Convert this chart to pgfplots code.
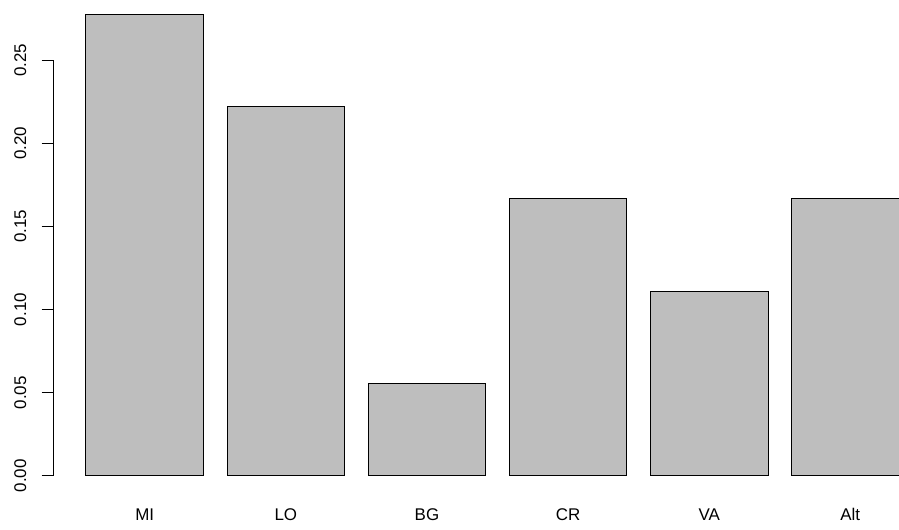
\documentclass[border=0pt]{standalone}
\usepackage{fontspec}
\setmainfont{Liberation Sans}
\usepackage{pgfplots}
\pgfplotsset{compat=1.18}
\definecolor{rgrey}{RGB}{190,190,190}
\begin{document}
\begin{tikzpicture}
\path[use as bounding box, clip] (-53bp,-31bp) rectangle (846bp,499bp);
\begin{axis}[
  at={(0,0)}, anchor=south west,
  scale only axis, width=889bp, height=503.5bp,
  xmin=-0.08, xmax=7.48, ymin=-0.014, ymax=0.289,
  clip=false,
  axis lines*=left, axis line style={draw=none},
  ybar, bar width=1, bar shift=0pt,
  xtick={0.7,1.9,3.1,4.3,5.5,6.7},
  xticklabels={MI,LO,BG,CR,VA,Alt},
  major x tick style={draw=none},
  ytick={0,0.05,0.1,0.15,0.2,0.25},
  tick align=outside, major tick length=11.3bp,
  major y tick style={black, line width=0.9bp},
  tick label style={font=\fontsize{17}{20}\selectfont},
  /pgf/number format/assume math mode=true,
  yticklabel style={rotate=90, anchor=south, inner sep=0pt, yshift=15.3bp,
    /pgf/number format/.cd, fixed, fixed zerofill, precision=2},
  xticklabel style={anchor=base, inner sep=0pt, yshift=-10bp},
]
\addplot[fill=rgrey, draw=black, line width=0.9bp] coordinates {
  (0.7,0.27778) (1.9,0.22222) (3.1,0.05556) (4.3,0.16667) (5.5,0.11111) (6.7,0.16667)
};
\draw[line width=0.9bp] (axis cs:-0.08,0) -- (axis cs:-0.08,0.25);
\end{axis}
\end{tikzpicture}
\end{document}
